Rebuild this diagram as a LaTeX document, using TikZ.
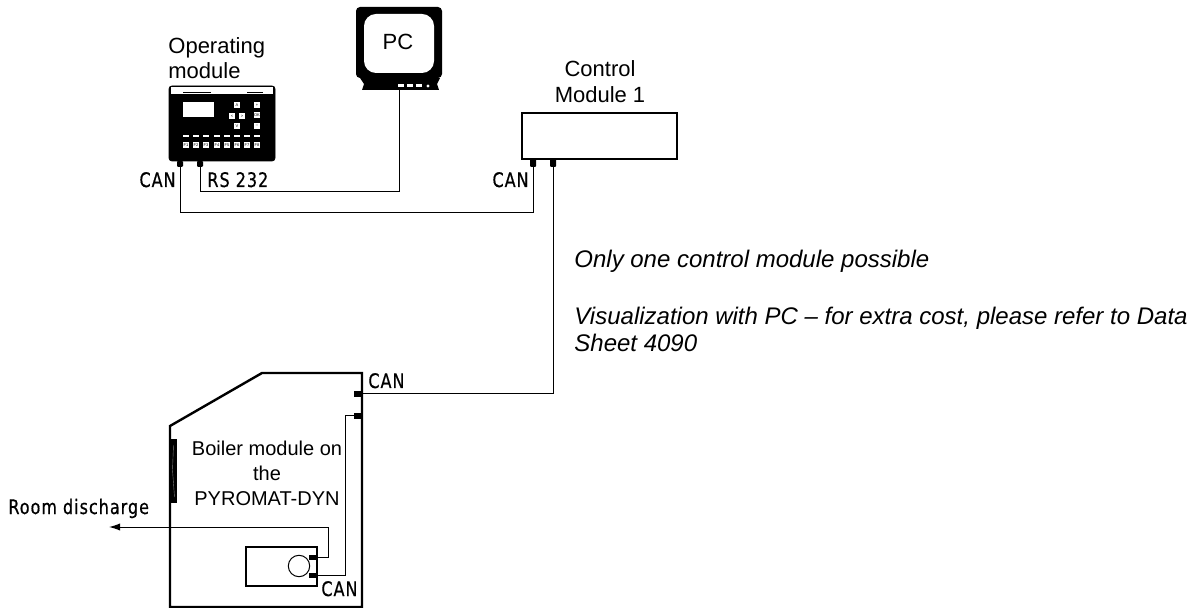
\documentclass[tikz,border=0pt]{standalone}
\usepackage{fontspec}
\setmainfont{Liberation Sans}
\newfontfamily\plotfont[FakeStretch=0.8,LetterSpace=5,FakeBold=0.6]{DejaVu Sans}
\usepackage{tikz}
\usetikzlibrary{arrows.meta}
\tikzset{
    wire/.style={line width=0.5pt},
    heavy/.style={line width=0.8pt},
    plug/.style={fill=black},
    caption/.style={font=\fontsize{11}{12.5}\selectfont,align=center,inner sep=0pt},
    remark/.style={font=\fontsize{12}{13.5}\itshape\selectfont,align=left,anchor=west,inner sep=0pt},
    tag/.style={font=\fontsize{10}{10}\plotfont,inner sep=0pt},
    key/.style={fill=white,minimum size=3pt,inner sep=0pt,font=\fontsize{2}{2}\selectfont},
    bar/.style={fill=white,minimum width=3.2pt,minimum height=0.6pt,inner sep=0pt}
}
\begin{document}
\begin{tikzpicture}[x=0.5pt,y=-0.5pt]
    \useasboundingbox(0,0)rectangle(1192,608);
    % operating module
    \draw[fill=black,rounded corners=1.5pt](169,86)rectangle(275,161);
    \fill[white](171,87.5)rectangle(273,94);
    \fill(183,92)rectangle(211,93.5);
    \fill(247,92)rectangle(263,93.5);
    \fill[white](183,102)rectangle(214,117);
    \foreach \x/\y/\t in {237/105/A,257/105/+,232/116/<,242/116/>,257/115/OK,237/126/V,257/126/--}
        \node[key]at(\x,\y){\t};
    \foreach \x[count=\n] in {186,196,206,217,227,237,247,257}{
        \node[bar]at(\x,136){};
        \node[key]at(\x,145){F\n};
    }
    \node[caption,align=left,anchor=west](opLabel)at(168,58){Operating\\module};
    \fill[plug,rounded corners=0.5pt](177,161)rectangle(183,167);
    \fill[plug,rounded corners=0.5pt](197,161)rectangle(203,167);
    \coordinate(opCan)at(180,167);
    \coordinate(opRs)at(200,167);
    % screen
    \fill[rounded corners=2pt](356,7)rectangle(442,78);
    \fill[white,rounded corners=6pt](364,14)rectangle(434,73);
    \fill(360,78)--(440,78)--(437,84)--(439,90)--(362,90)--(364,84)--cycle;
    \foreach \x in {401,410,418.5}\fill[white](\x-3,84.5)rectangle(\x+3,87.5);
    \fill[white](428,86)circle(1.7);
    \node[caption](pcLabel)at(398,42){PC};
    \coordinate(pcOut)at(399,90);
    % control module
    \node[caption,anchor=south](ctrlLabel)at(600,103){Control\\[0.5pt]Module 1};
    \draw[heavy](522,113)rectangle(677,159);
    \fill[plug,rounded corners=0.5pt](530,159)rectangle(536,167);
    \fill[plug,rounded corners=0.5pt](550,159)rectangle(556,167);
    \coordinate(ctrlIn)at(533,167);
    \coordinate(ctrlOut)at(553,167);
    % boiler
    \draw[line width=1.2pt](170,426)--(262,373)--(362,373)--(362,607)--(170,607)--cycle;
    \fill(170,439)rectangle(177,503);
    \draw[gray,line width=0.2pt](173.5,445)--(172.5,470)--(174.5,497);
    \fill[plug](354,391)rectangle(361,397);
    \fill[plug](354,413)rectangle(361,419);
    \draw[heavy](246,547)rectangle(317,586);
    \draw[wire](299,566)circle(10.7);
    \fill[plug](309,554.5)rectangle(317,560);
    \fill[plug](309,572.5)rectangle(317,578);
    \node[caption,font=\fontsize{10}{12.5}\selectfont](boilerLabel)at(267,473){Boiler module on\\the\\PYROMAT-DYN};
    \coordinate(boilerCan)at(362,394);
    \coordinate(boilerBus)at(354,416);
    \coordinate(innerA)at(317,557);
    \coordinate(innerB)at(317,575);
    \coordinate(discharge)at(109,527);
    \coordinate(busCorner)at(180,213);
    \coordinate(rsCorner)at(200,192);
    \coordinate(busDrop)at(345,575);
    \coordinate(roomDrop)at(328,527);
    % wires
    \draw[wire](opCan)--(busCorner)-|(ctrlIn);
    \draw[wire](opRs)--(rsCorner)-|(pcOut);
    \draw[wire](ctrlOut)|-(boilerCan);
    \draw[wire](boilerBus)-|(busDrop)--(innerB);
    \draw[wire,-{Latex[length=5.5pt,width=3.6pt]}](innerA)-|(roomDrop)--(discharge);
    % labels
    \node[tag,anchor=base east](canA)at(176,187){CAN};
    \node[tag,anchor=base west](rsLabel)at(207,187){RS 232};
    \node[tag,anchor=base east](canB)at(529,187){CAN};
    \node[tag,anchor=base west](canC)at(368,388){CAN};
    \node[tag,anchor=base west](canD)at(321,596){CAN};
    \node[tag,anchor=base west](roomLabel)at(8,514){Room discharge};
    \node[remark](noteA)at(574,261){Only one control module possible};
    \node[remark](noteB)at(574,329){Visualization with PC -- for extra cost, please refer to Data\\Sheet 4090};
\end{tikzpicture}
\end{document}
